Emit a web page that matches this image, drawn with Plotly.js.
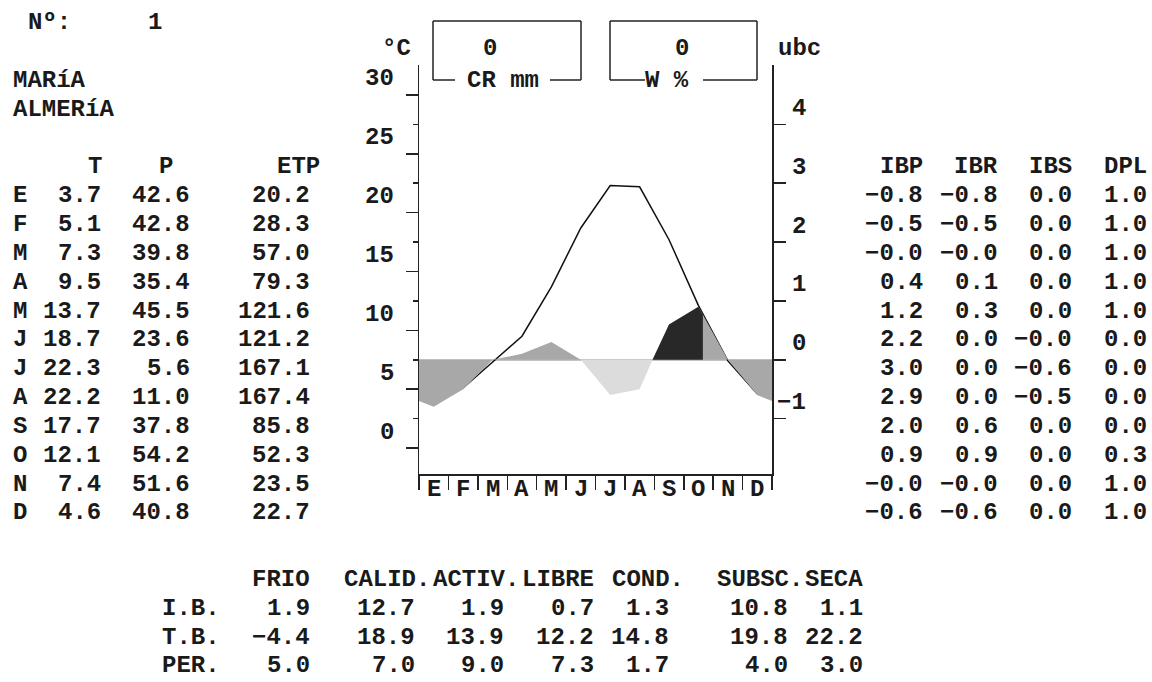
<!DOCTYPE html>
<html><head><meta charset="utf-8">
<script src="https://cdn.plot.ly/plotly-3.0.1.min.js"></script>
<style>html,body{margin:0;padding:0;background:#fff}#chart{width:1152px;height:682px}</style>
</head><body><div id="chart"></div>
<script>
// ---------------- data ----------------
const stationNo = 1;
const stationName = 'MARíA';
const province = 'ALMERíA';
const monthLetters = ['E','F','M','A','M','J','J','A','S','O','N','D'];
const T   = [3.7, 5.1, 7.3, 9.5, 13.7, 18.7, 22.3, 22.2, 17.7, 12.1, 7.4, 4.6];
const P   = [42.6, 42.8, 39.8, 35.4, 45.5, 23.6, 5.6, 11.0, 37.8, 54.2, 51.6, 40.8];
const ETP = [20.2, 28.3, 57.0, 79.3, 121.6, 121.2, 167.1, 167.4, 85.8, 52.3, 23.5, 22.7];
const IBP = [-0.8, -0.5, -0, 0.4, 1.2, 2.2, 3.0, 2.9, 2.0, 0.9, -0, -0.6];
const IBR = [-0.8, -0.5, -0, 0.1, 0.3, 0.0, 0.0, 0.0, 0.6, 0.9, -0, -0.6];
const IBS = [0.0, 0.0, 0.0, 0.0, 0.0, -0, -0.6, -0.5, 0.0, 0.0, 0.0, 0.0];
const DPL = [1.0, 1.0, 1.0, 1.0, 1.0, 0.0, 0.0, 0.0, 0.0, 0.3, 1.0, 1.0];
const periodNames = ['FRIO','CALID.','ACTIV.','LIBRE','COND.','SUBSC.','SECA'];
const rowNames = ['I.B.','T.B.','PER.'];
const periodIB  = [1.9, 12.7, 1.9, 0.7, 1.3, 10.8, 1.1];
const periodTB  = [-4.4, 18.9, 13.9, 12.2, 14.8, 19.8, 22.2];
const periodPER = [5.0, 7.0, 9.0, 7.3, 1.7, 4.0, 3.0];
const retentionCR = 0;   // CR mm
const waterW = 0;        // W %
const dryEnd = 7.94;       // month position where the dry spell ends
const recoveryEnd = 9.65;  // end of the conditioned (black) period
const tempTicks = [0, 5, 10, 15, 20, 25, 30];
const tempMinorTicks = [2.5, 7.5, 12.5, 17.5, 22.5, 27.5];
const ubcTicks = [-1, 0, 1, 2, 3, 4];
const ubcBaseT = 7.5, degPerUbc = 5;

// ---------------- layout geometry ----------------
const W = 1152, H = 682;
const PL = 419, PR = 772, PT = 65, PB = 474;
const T0px = 448, pxPerDeg = 11.767;
const tLo = -(PB - T0px) / pxPerDeg, tHi = (T0px - PT) / pxPerDeg;
const px = x => x / W, py = y => 1 - y / H;

const FONT = {family: 'Liberation Mono, DejaVu Sans Mono, monospace', size: 24, color: '#1a1a1a', weight: 'bold'};
const PITCH = 14.95, X0 = -3;
const colL = c => X0 + c * PITCH;          // left edge of text cell
const colR = c => X0 + (c + 1) * PITCH;    // right edge of text cell
const rowY = r => 22.5 + r * 28.85;

const fmt = v => ((v < 0 || Object.is(v, -0)) ? '\u2212' : '') + Math.abs(v).toFixed(1);

const ann = [];
function txt(s, x, y, anchor) {
  ann.push({text: s, x: px(x), y: py(y), xref: 'paper', yref: 'paper', xanchor: anchor || 'left',
            yanchor: 'middle', showarrow: false, font: FONT, borderpad: 0});
}

// header block
txt('Nº:', colL(2), rowY(0));
txt(String(stationNo), colL(10), rowY(0));
txt(stationName, colL(1), rowY(2));
txt(province, colL(1), rowY(3));

// left monthly table
txt('T', colL(6), rowY(5));
txt('P', 166, rowY(5), 'center');
txt('ETP', 321, rowY(5), 'right');
monthLetters.forEach((m, i) => {
  const y = rowY(6 + i);
  txt(m, colL(1), y);
  txt(fmt(T[i]), colR(6), y, 'right');
  txt(fmt(P[i]), colR(12), y, 'right');
  txt(fmt(ETP[i]), colR(20), y, 'right');
});

// right monthly table
const rightCols = [['IBP', IBP, 61], ['IBR', IBR, 66], ['IBS', IBS, 71], ['DPL', DPL, 76]];
rightCols.forEach(([name, arr, c]) => {
  txt(name, colR(c), rowY(5), 'right');
  arr.forEach((v, i) => txt(fmt(v), colR(c), rowY(6 + i), 'right'));
});

// bottom period table
const bottomY = [579, 608, 637, 665];
const valueEndCol = [20, 27, 33, 39, 44, 52, 57];
const headEndCol  = [20, 28, 34, 39, 45, 53, 57];
periodNames.forEach((n, j) => txt(n, colR(headEndCol[j]), bottomY[0], 'right'));
[periodIB, periodTB, periodPER].forEach((arr, r) => {
  txt(rowNames[r], colL(11), bottomY[r + 1]);
  arr.forEach((v, j) => txt(fmt(v), colR(valueEndCol[j]), bottomY[r + 1], 'right'));
});

// chart labels
txt('°C', 396, 48, 'center');
txt('ubc', 777, 48);
txt(String(retentionCR), 490, 48, 'center');
txt('CR mm', 503, 80, 'center');
txt(String(waterW), 681.5, 48, 'center');
txt('W %', 666.5, 80, 'center');

tempTicks.forEach(v => ann.push({text: String(v), x: px(396), xref: 'paper', y: v, yref: 'y', yshift: 16,
  xanchor: 'right', yanchor: 'middle', showarrow: false, font: FONT}));
ubcTicks.forEach(v => ann.push({text: v < 0 ? '\u2212' + Math.abs(v) : String(v), x: px(808), xref: 'paper', y: v, yref: 'y2', yshift: 16,
  xanchor: 'right', yanchor: 'middle', showarrow: false, font: FONT}));
monthLetters.forEach((m, i) => ann.push({text: m, x: i + 0.5, xref: 'x', y: py(489), yref: 'paper',
  xanchor: 'center', yanchor: 'middle', showarrow: false, font: FONT}));

// boxes (decoration)
const LINE = {color: '#222', width: 1.5};
function seg(x0, y0, x1, y1) {
  return {type: 'line', xref: 'paper', yref: 'paper', x0: px(x0), y0: py(y0), x1: px(x1), y1: py(y1), line: LINE};
}
const shapes = [
  seg(433, 21, 581, 21), seg(433, 21, 433, 80), seg(581, 21, 581, 80), seg(433, 80, 455, 80), seg(550, 80, 581, 80),
  seg(610, 21, 757, 21), seg(610, 21, 610, 80), seg(757, 21, 757, 80), seg(610, 80, 645, 80), seg(703, 80, 757, 80)
];

// ---------------- traces ----------------
const xc = monthLetters.map((_, i) => i + 0.5);
const wrapX = [-0.5, ...xc, 12.5];
const wrap = a => [a[a.length - 1], ...a, a[0]];
function insertPoint(xs, ys, xp, yp) {
  const i = xs.findIndex(x => x > xp);
  return [[...xs.slice(0, i), xp, ...xs.slice(i)], [...ys.slice(0, i), yp, ...ys.slice(i)]];
}
const [ibrX, ibrY] = insertPoint(wrapX, wrap(IBR), dryEnd, 0);
const [ibsX, ibsY] = insertPoint(wrapX, wrap(IBS), dryEnd, 0);

// black (conditioned) area: IBR between dryEnd and recoveryEnd
const condX = [dryEnd], condY = [0];
xc.forEach((x, i) => { if (x > dryEnd && x < recoveryEnd) { condX.push(x); condY.push(IBR[i]); } });
const k = Math.floor(recoveryEnd - 0.5);
condX.push(recoveryEnd);
condY.push(IBR[k] + (IBR[k + 1] - IBR[k]) * (recoveryEnd - xc[k]));

const traces = [
  {x: ibrX, y: ibrY, yaxis: 'y2', type: 'scatter', mode: 'lines', fill: 'tozeroy',
   fillcolor: '#a8a8a8', line: {width: 0, color: '#a8a8a8'}, hoverinfo: 'skip'},
  {x: ibsX, y: ibsY, yaxis: 'y2', type: 'scatter', mode: 'lines', fill: 'tozeroy',
   fillcolor: '#dcdcdc', line: {width: 0, color: '#dcdcdc'}, hoverinfo: 'skip'},
  {x: condX, y: condY, yaxis: 'y2', type: 'scatter', mode: 'lines', fill: 'tozeroy',
   fillcolor: '#282828', line: {width: 0, color: '#282828'}, hoverinfo: 'skip'},
  {x: wrapX, y: wrap(T), yaxis: 'y', type: 'scatter', mode: 'lines',
   line: {width: 1.5, color: '#111'}, hoverinfo: 'skip'}
];

const layout = {
  width: W, height: H, margin: {l: 0, r: 0, t: 0, b: 0},
  paper_bgcolor: '#fff', plot_bgcolor: '#fff', showlegend: false,
  xaxis: {domain: [px(PL), px(PR)], range: [0, 12], showgrid: false, zeroline: false,
          showline: true, linecolor: '#222', linewidth: 1.5,
          tickmode: 'array', tickvals: monthLetters.map((_, i) => i).concat([monthLetters.length]),
          ticks: 'outside', ticklen: 14, tickwidth: 1.5, tickcolor: '#222', showticklabels: false},
  yaxis: {domain: [py(PB), py(PT)], range: [tLo, tHi], showgrid: false, zeroline: false,
          showline: true, linecolor: '#222', linewidth: 1.5,
          tickmode: 'array', tickvals: tempTicks, ticks: 'outside', ticklen: 12, tickwidth: 1.5, tickcolor: '#222',
          showticklabels: false,
          minor: {tickmode: 'array', tickvals: tempMinorTicks, ticks: 'outside', ticklen: 5, tickwidth: 1.5, tickcolor: '#222', showgrid: false}},
  yaxis2: {overlaying: 'y', side: 'right', range: [(tLo - ubcBaseT) / degPerUbc, (tHi - ubcBaseT) / degPerUbc],
           showgrid: false, zeroline: true, zerolinecolor: '#c4c4c4', zerolinewidth: 1.5,
           showline: true, linecolor: '#222', linewidth: 1.5,
           tickmode: 'array', tickvals: ubcTicks, ticks: 'outside', ticklen: 12, tickwidth: 1.5, tickcolor: '#222',
           showticklabels: false},
  annotations: ann, shapes: shapes
};
Plotly.newPlot('chart', traces, layout, {staticPlot: true, displayModeBar: false});
</script></body></html>
